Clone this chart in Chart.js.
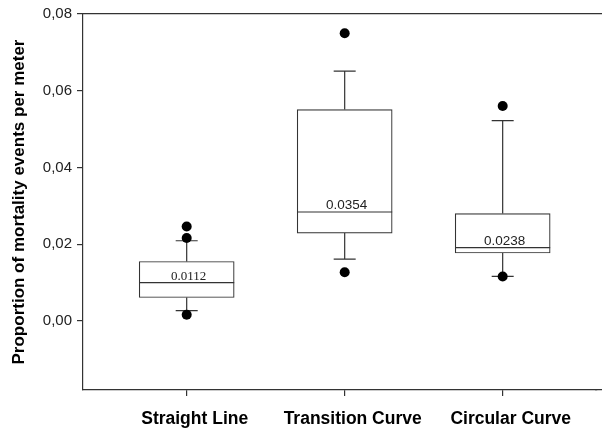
<!DOCTYPE html>
<html>
<head>
<meta charset="utf-8">
<script src="https://cdn.jsdelivr.net/npm/chart.js@4"></script>
<style>
  html, body { margin: 0; padding: 0; background: #fff; }
  #wrap { width: 602px; height: 430px; }
</style>
</head>
<body>
<div id="wrap"><canvas id="chart"></canvas></div>
<script>
// box plot values
const categories = ['Straight Line', 'Transition Curve', 'Circular Curve'];
const lowerWhisker = [0.0027, 0.0161, 0.0116];
const q1 = [0.0061, 0.0229, 0.0177];
const median = [0.0100, 0.0284, 0.0191];
const q3 = [0.0155, 0.0551, 0.0280];
const upperWhisker = [0.0209, 0.0651, 0.0522];
const outliers = [[0.0016, 0.0216, 0.0246], [0.0127, 0.0750], [0.0116, 0.0560]];
const boxLabels = ['0.0112', '0.0354', '0.0238'];
const yTicks = [0, 0.02, 0.04, 0.06, 0.08];

const lineColor = '#333';
const lineW = 1.2;
const labelFonts = ['13px "Liberation Serif", "Times New Roman", serif', '13.5px "Liberation Sans", Arial, sans-serif', '13.5px "Liberation Sans", Arial, sans-serif'];

// same pixel snapping Chart.js uses for its axis lines
const snap = (p) => Math.round(p - lineW / 2) + lineW / 2;

// whiskers, caps, medians and the frame lines that run to the right edge
const boxExtras = {
  id: 'boxExtras',
  beforeDatasetsDraw(chart) {
    const { ctx, scales: { x, y } } = chart;
    ctx.save();
    ctx.strokeStyle = lineColor;
    ctx.lineWidth = lineW;
    categories.forEach((c, i) => {
      const px = x.getPixelForValue(i + 1);
      ctx.beginPath();
      ctx.moveTo(px, y.getPixelForValue(upperWhisker[i]));
      ctx.lineTo(px, y.getPixelForValue(q3[i]));
      ctx.moveTo(px, y.getPixelForValue(q1[i]));
      ctx.lineTo(px, y.getPixelForValue(lowerWhisker[i]));
      [upperWhisker[i], lowerWhisker[i]].forEach(v => {
        const py = y.getPixelForValue(v);
        ctx.moveTo(px - 11, py);
        ctx.lineTo(px + 11, py);
      });
      ctx.stroke();
    });
    ctx.restore();
  },
  afterDatasetsDraw(chart) {
    const { ctx, chartArea, scales: { x, y } } = chart;
    ctx.save();
    ctx.strokeStyle = lineColor;
    ctx.lineWidth = lineW;
    ctx.beginPath();
    ctx.moveTo(chartArea.left, snap(chartArea.top));
    ctx.lineTo(chart.width, snap(chartArea.top));
    ctx.moveTo(chartArea.right - 2, snap(x.top));
    ctx.lineTo(chart.width, snap(x.top));
    ctx.stroke();
    categories.forEach((c, i) => {
      const px = x.getPixelForValue(i + 1);
      const py = y.getPixelForValue(median[i]);
      ctx.beginPath();
      ctx.moveTo(px - 47.5, py);
      ctx.lineTo(px + 47.5, py);
      ctx.stroke();
      ctx.fillStyle = '#222';
      ctx.font = labelFonts[i];
      ctx.textAlign = 'center';
      ctx.textBaseline = 'alphabetic';
      ctx.fillText(boxLabels[i], px + 2, py - 3);
    });
    ctx.restore();
  }
};

const outlierPoints = [];
outliers.forEach((list, i) => list.forEach(v => outlierPoints.push({ x: i + 1, y: v })));

new Chart(document.getElementById('chart'), {
  type: 'bar',
  data: {
    datasets: [
      {
        label: 'boxes',
        data: categories.map((c, i) => ({ x: i + 1, y: [q1[i], q3[i]] })),
        backgroundColor: '#fff',
        borderColor: lineColor,
        borderWidth: lineW,
        borderSkipped: false,
        barThickness: 95,
      },
      {
        type: 'scatter',
        label: 'outliers',
        data: outlierPoints,
        pointRadius: 5,
        pointBackgroundColor: '#000',
        pointBorderWidth: 0,
      },
    ],
  },
  options: {
    responsive: true,
    maintainAspectRatio: false,
    animation: false,
    layout: { padding: { top: 14, right: 0, left: 0, bottom: 0 } },
    plugins: { legend: { display: false }, tooltip: { enabled: false } },
    scales: {
      x: {
        type: 'linear',
        min: 0.3437,
        max: 3.597,
        offset: false,
        afterBuildTicks: (axis) => { axis.ticks = categories.map((c, i) => ({ value: i + 1 })); },
        afterFit: (axis) => { axis.height = 40; },
        ticks: {
          callback: (v) => categories[v - 1],
          color: '#000',
          font: { family: '"Liberation Sans", Arial', size: 17.5, weight: 'bold' },
          padding: 13,
          labelOffset: 8,
          maxRotation: 0,
          autoSkip: false,
        },
        grid: { offset: false, drawOnChartArea: false, tickLength: 6, color: lineColor, lineWidth: lineW },
        border: { color: lineColor, width: lineW },
      },
      y: {
        min: -0.018,
        max: 0.08,
        afterBuildTicks: (axis) => { axis.ticks = yTicks.map(v => ({ value: v })); },
        afterFit: (axis) => { axis.width = 83; },
        ticks: {
          callback: (v) => v.toFixed(2).replace('.', ','),
          color: '#222',
          font: { family: '"Liberation Sans", Arial', size: 15 },
          padding: 5,
        },
        grid: { drawOnChartArea: false, tickLength: 6, color: lineColor, lineWidth: lineW },
        border: { color: lineColor, width: lineW },
        title: {
          display: true,
          text: 'Proportion of mortality events per meter',
          color: '#000',
          font: { family: '"Liberation Sans", Arial', size: 17, weight: 'bold' },
          padding: { top: 9, bottom: 0 },
        },
      },
    },
  },
  plugins: [boxExtras],
});
</script>
</body>
</html>
